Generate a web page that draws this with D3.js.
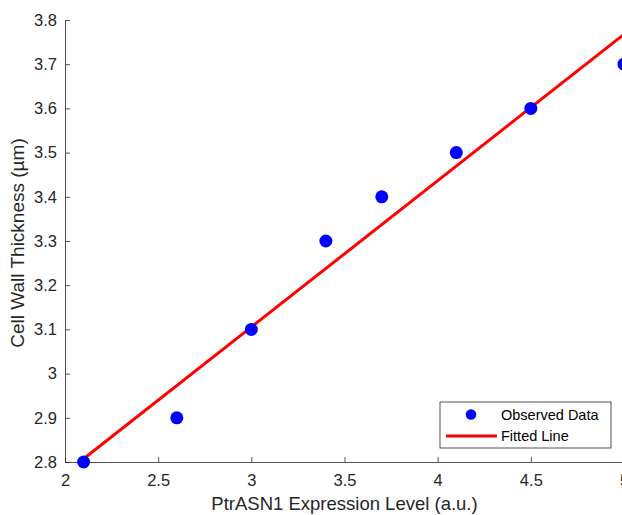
<!DOCTYPE html>
<html lang="en">
<head>
<meta charset="UTF-8" />
<title>Cell Wall Thickness vs PtrASN1</title>
<script src="https://d3js.org/d3.v7.min.js"></script>
<style>
    body { margin: 0; background: #fff; font-family: "Liberation Sans", Arial, sans-serif; }
    svg { display: block; }
</style>
</head>
<body>
<svg id="chart"></svg>
<script>
    const expression = [2.1, 2.6, 3.0, 3.4, 3.7, 4.1, 4.5, 5.0];
    const thickness = [2.8, 2.9, 3.1, 3.3, 3.4, 3.5, 3.6, 3.7];
    const xTicks = [2, 2.5, 3, 3.5, 4, 4.5, 5];
    const yTicks = [2.8, 2.9, 3.0, 3.1, 3.2, 3.3, 3.4, 3.5, 3.6, 3.7, 3.8];

    const width = 622, height = 515;
    const margin = { top: 20, left: 65, bottom: 53 };
    const plotRight = 624;

    const svg = d3.select("#chart").attr("width", width).attr("height", height);

    const x = d3.scaleLinear().domain([2, 5]).range([margin.left, plotRight]);
    const y = d3.scaleLinear().domain([2.8, 3.8]).range([height - margin.bottom, margin.top]);

    const axisColor = "#262626";

    // least squares fit
    const mx = d3.mean(expression), my = d3.mean(thickness);
    const slope = d3.sum(expression, (v, i) => (v - mx) * (thickness[i] - my)) /
                  d3.sum(expression, v => (v - mx) ** 2);
    const intercept = my - slope * mx;
    const fit = d3.extent(expression).map(v => [v, intercept + slope * v]);

    // axes
    const xAxis = svg.append("g")
        .attr("transform", `translate(0,${y(2.8)})`)
        .call(d3.axisBottom(x).tickValues(xTicks).tickSizeInner(-5).tickSizeOuter(0).tickPadding(12).tickFormat(d3.format("")));
    const yAxis = svg.append("g")
        .attr("transform", `translate(${x(2)},0)`)
        .call(d3.axisLeft(y).tickValues(yTicks).tickSizeInner(-5).tickSizeOuter(0).tickPadding(8).tickFormat(d3.format("")));

    [xAxis, yAxis].forEach(g => {
        g.selectAll("path, line").attr("stroke", axisColor).attr("stroke-width", 0.8);
        g.selectAll("text").attr("fill", axisColor).attr("font-size", 16.5)
            .attr("font-family", "'Liberation Sans', Arial, sans-serif");
    });

    svg.append("text")
        .attr("x", (x(2) + x(5)) / 2).attr("y", 510)
        .attr("text-anchor", "middle")
        .attr("fill", axisColor).attr("font-size", 18.5)
        .text("PtrASN1 Expression Level (a.u.)");

    svg.append("text")
        .attr("transform", `translate(24,${(y(2.8) + y(3.8)) / 2 + 2}) rotate(-90)`)
        .attr("text-anchor", "middle")
        .attr("fill", axisColor).attr("font-size", 19)
        .text("Cell Wall Thickness (\u00b5m)");

    // fitted line
    svg.append("path")
        .datum(fit)
        .attr("fill", "none")
        .attr("stroke", "#ff0000")
        .attr("stroke-width", 3)
        .attr("d", d3.line().x(d => x(d[0])).y(d => y(d[1])));

    // observed points
    svg.append("g")
        .selectAll("circle")
        .data(expression)
        .join("circle")
        .attr("cx", d => x(d))
        .attr("cy", (d, i) => y(thickness[i]))
        .attr("r", 6.5)
        .attr("fill", "#0000ff");

    // legend
    const legend = svg.append("g").attr("transform", "translate(440,402)");
    legend.append("rect")
        .attr("width", 171).attr("height", 46)
        .attr("fill", "#fff").attr("stroke", axisColor).attr("stroke-width", 0.8);
    legend.append("circle").attr("cx", 31).attr("cy", 12.5).attr("r", 5.3).attr("fill", "#0000ff");
    legend.append("line").attr("x1", 6).attr("x2", 57).attr("y1", 34).attr("y2", 34)
        .attr("stroke", "#ff0000").attr("stroke-width", 3);
    legend.selectAll("text.lbl")
        .data(["Observed Data", "Fitted Line"])
        .join("text")
        .attr("class", "lbl")
        .attr("x", 61)
        .attr("y", (d, i) => 18 + i * 21)
        .attr("fill", "#000").attr("font-size", 14.5)
        .text(d => d);
</script>
</body>
</html>
